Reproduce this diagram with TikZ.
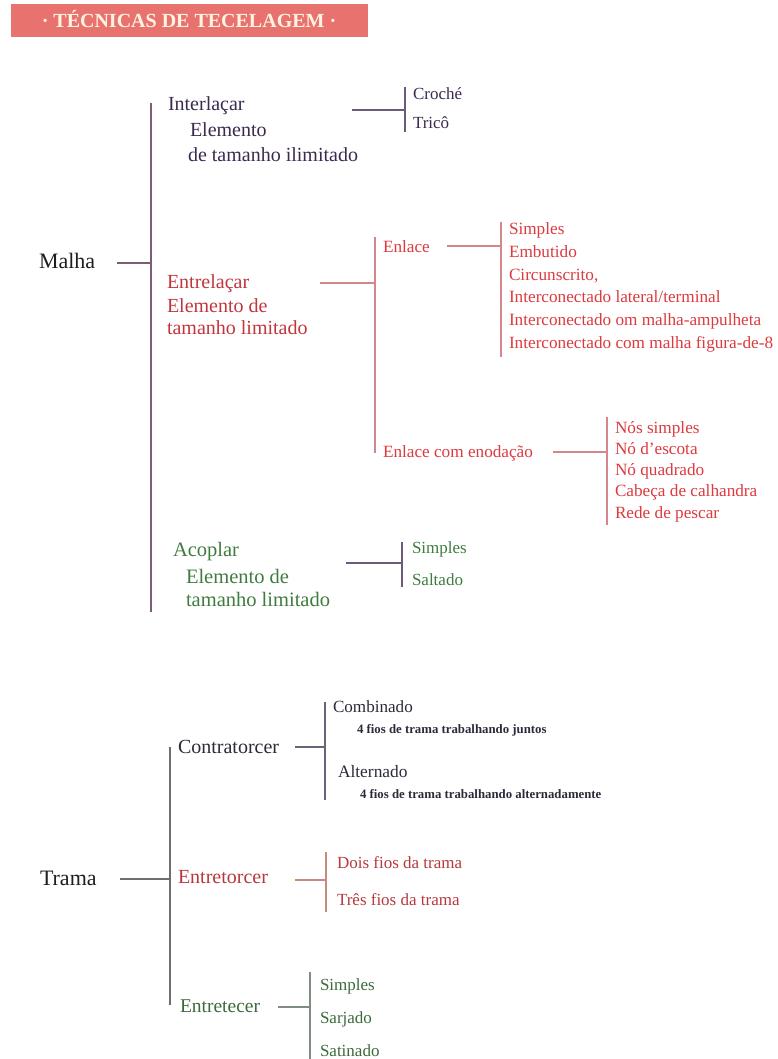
\documentclass[tikz,border=0pt]{standalone}
\usepackage{fontspec}
\setmainfont{Liberation Serif}
\definecolor{banner}{HTML}{E8736E}
\definecolor{bannertxt}{HTML}{FFF3E4}
\definecolor{purp}{HTML}{3B2A4E}
\definecolor{purpline}{HTML}{7D5C74}
\definecolor{purpline2}{HTML}{6B5A78}
\definecolor{redhead}{HTML}{C0363C}
\definecolor{reditem}{HTML}{DC3A3E}
\definecolor{redline}{HTML}{D4868A}
\definecolor{grn}{HTML}{3F7B3F}
\definecolor{tramatxt}{HTML}{1E1E1E}
\definecolor{tramaline}{HTML}{6E6E6E}
\definecolor{contra}{HTML}{2B2A3A}
\definecolor{contraline}{HTML}{6B6478}
\definecolor{entret}{HTML}{B5383C}
\definecolor{entretline}{HTML}{C98A7E}
\definecolor{grn2}{HTML}{3B6A3B}
\definecolor{grnline}{HTML}{7F8C7F}
\tikzset{
  lbl/.style={anchor=base west, inner sep=0pt, outer sep=0pt},
  fs/.style={font=\fontsize{#1}{#1}\selectfont},
  conn/.style={line width=1.2pt, draw=#1},
}
\begin{document}
\begin{tikzpicture}[x=1pt,y=-1pt]
\useasboundingbox (0,0) rectangle (778,1059);
% title banner
\fill[banner] (11,4) rectangle (368,37);
\node[inner sep=0pt, anchor=base, text=bannertxt, font=\fontsize{20}{20}\selectfont\bfseries] (title) at (189,28) {· TÉCNICAS DE TECELAGEM ·};

% ---------------- MALHA ----------------
\node[lbl, fs=22, text=tramatxt] (malha) at (39,269) {Malha};
\coordinate (mS) at (117,263);
\coordinate (mJ) at (151,263);
\coordinate (mTop) at (151,103);
\coordinate (mBot) at (151,612);
\draw[conn=purpline] (mTop) -- (mBot);
\draw[conn=purpline] (mS) -- (mJ);

% Interlaçar
\node[lbl, fs=20, text=purp] (inter) at (168,111) {Interlaçar};
\node[lbl, fs=20, text=purp] (inter2) at (190,137) {Elemento};
\node[lbl, fs=20, text=purp] (inter3) at (188,162) {de tamanho ilimitado};
\coordinate (iS) at (352,110);
\coordinate (iJ) at (405,110);
\coordinate (iTop) at (405,87);
\coordinate (iBot) at (405,132);
\draw[conn=purpline2] (iS) -- (iJ);
\draw[conn=purpline2] (iTop) -- (iBot);
\node[lbl, fs=17, text=purp] (croche) at (413,100) {Croché};
\node[lbl, fs=17, text=purp] (trico) at (413,129) {Tricô};

% Entrelaçar
\node[lbl, fs=20, text=redhead] (entre) at (167,288) {Entrelaçar};
\node[lbl, fs=20, text=redhead] (entre2) at (167,312) {Elemento de};
\node[lbl, fs=20, text=redhead] (entre3) at (167,334) {tamanho limitado};
\coordinate (eS) at (320,283);
\coordinate (eJ) at (375,283);
\coordinate (eTop) at (375,237);
\coordinate (eBot) at (375,453);
\draw[conn=redline] (eS) -- (eJ);
\draw[conn=redline] (eTop) -- (eBot);

% Enlace
\node[lbl, fs=17.2, text=reditem] (enlace) at (383,252) {Enlace};
\coordinate (lS) at (447,246);
\coordinate (lJ) at (501,246);
\coordinate (lTop) at (501,222);
\coordinate (lBot) at (501,357);
\draw[conn=redline] (lS) -- (lJ);
\draw[conn=redline] (lTop) -- (lBot);
\node[lbl, fs=17.2, text=reditem] (l1) at (509,235) {Simples};
\node[lbl, fs=17.2, text=reditem] (l2) at (509,257.6) {Embutido};
\node[lbl, fs=17.2, text=reditem] (l3) at (509,280.2) {Circunscrito,};
\node[lbl, fs=17.2, text=reditem] (l4) at (509,302.8) {Interconectado lateral/terminal};
\node[lbl, fs=17.2, text=reditem] (l5) at (509,325.4) {Interconectado om malha-ampulheta};
\node[lbl, fs=17.2, text=reditem] (l6) at (509,348) {Interconectado com malha figura-de-8};

% Enlace com enodação
\node[lbl, fs=17.2, text=reditem] (enod) at (383,457) {Enlace com enodação};
\coordinate (nS) at (553,452);
\coordinate (nJ) at (607,452);
\coordinate (nTop) at (607,417);
\coordinate (nBot) at (607,525);
\draw[conn=redline] (nS) -- (nJ);
\draw[conn=redline] (nTop) -- (nBot);
\node[lbl, fs=17.2, text=reditem] (n1) at (615,433) {Nós simples};
\node[lbl, fs=17.2, text=reditem] (n2) at (615,454.3) {Nó d’escota};
\node[lbl, fs=17.2, text=reditem] (n3) at (615,475.6) {Nó quadrado};
\node[lbl, fs=17.2, text=reditem] (n4) at (615,496.9) {Cabeça de calhandra};
\node[lbl, fs=17.2, text=reditem] (n5) at (615,518.2) {Rede de pescar};

% Acoplar
\node[lbl, fs=20.5, text=grn] (acop) at (173,556) {Acoplar};
\node[lbl, fs=20.5, text=grn] (acop2) at (186,583) {Elemento de};
\node[lbl, fs=20.5, text=grn] (acop3) at (186,606) {tamanho limitado};
\coordinate (aS) at (346,563);
\coordinate (aJ) at (402,563);
\coordinate (aTop) at (402,542);
\coordinate (aBot) at (402,587);
\draw[conn=purpline2] (aS) -- (aJ);
\draw[conn=purpline2] (aTop) -- (aBot);
\node[lbl, fs=17, text=grn] (as1) at (412,553) {Simples};
\node[lbl, fs=17, text=grn] (as2) at (412,585) {Saltado};

% ---------------- TRAMA ----------------
\node[lbl, fs=22, text=tramatxt] (trama) at (40,885) {Trama};
\coordinate (tS) at (120,879);
\coordinate (tJ) at (170,879);
\coordinate (tTop) at (170,747);
\coordinate (tBot) at (170,1005);
\draw[conn=tramaline] (tS) -- (tJ);
\draw[conn=tramaline] (tTop) -- (tBot);

% Contratorcer
\node[lbl, fs=20, text=contra] (contr) at (178,753) {Contratorcer};
\coordinate (cS) at (295,747);
\coordinate (cJ) at (325,747);
\coordinate (cTop) at (325,702);
\coordinate (cBot) at (325,800);
\draw[conn=contraline] (cS) -- (cJ);
\draw[conn=contraline] (cTop) -- (cBot);
\node[lbl, fs=17.1, text=contra] (comb) at (333,712) {Combinado};
\node[lbl, font=\fontsize{12.8}{12.8}\selectfont\bfseries, text=contra] (comb2) at (357,733) {4 fios de trama trabalhando juntos};
\node[lbl, fs=17.4, text=contra] (alt) at (338,777) {Alternado};
\node[lbl, font=\fontsize{12.8}{12.8}\selectfont\bfseries, text=contra] (alt2) at (360,798) {4 fios de trama trabalhando alternadamente};

% Entretorcer
\node[lbl, fs=20, text=entret] (etor) at (178,883) {Entretorcer};
\coordinate (oS) at (295,880);
\coordinate (oJ) at (326,880);
\coordinate (oTop) at (326,852);
\coordinate (oBot) at (326,912);
\draw[conn=entretline] (oS) -- (oJ);
\draw[conn=entretline] (oTop) -- (oBot);
\node[lbl, fs=17, text=entret] (o1) at (337,868) {Dois fios da trama};
\node[lbl, fs=17, text=entret] (o2) at (337,905) {Três fios da trama};

% Entretecer
\node[lbl, fs=19.5, text=grn2] (etec) at (180,1012) {Entretecer};
\coordinate (xS) at (278,1007);
\coordinate (xJ) at (310,1007);
\coordinate (xTop) at (310,972);
\coordinate (xBot) at (310,1059);
\draw[conn=grnline] (xS) -- (xJ);
\draw[conn=grnline] (xTop) -- (xBot);
\node[lbl, fs=17, text=grn2] (x1) at (320,990) {Simples};
\node[lbl, fs=17, text=grn2] (x2) at (320,1023) {Sarjado};
\node[lbl, fs=17, text=grn2] (x3) at (320,1056) {Satinado};
\end{tikzpicture}
\end{document}
